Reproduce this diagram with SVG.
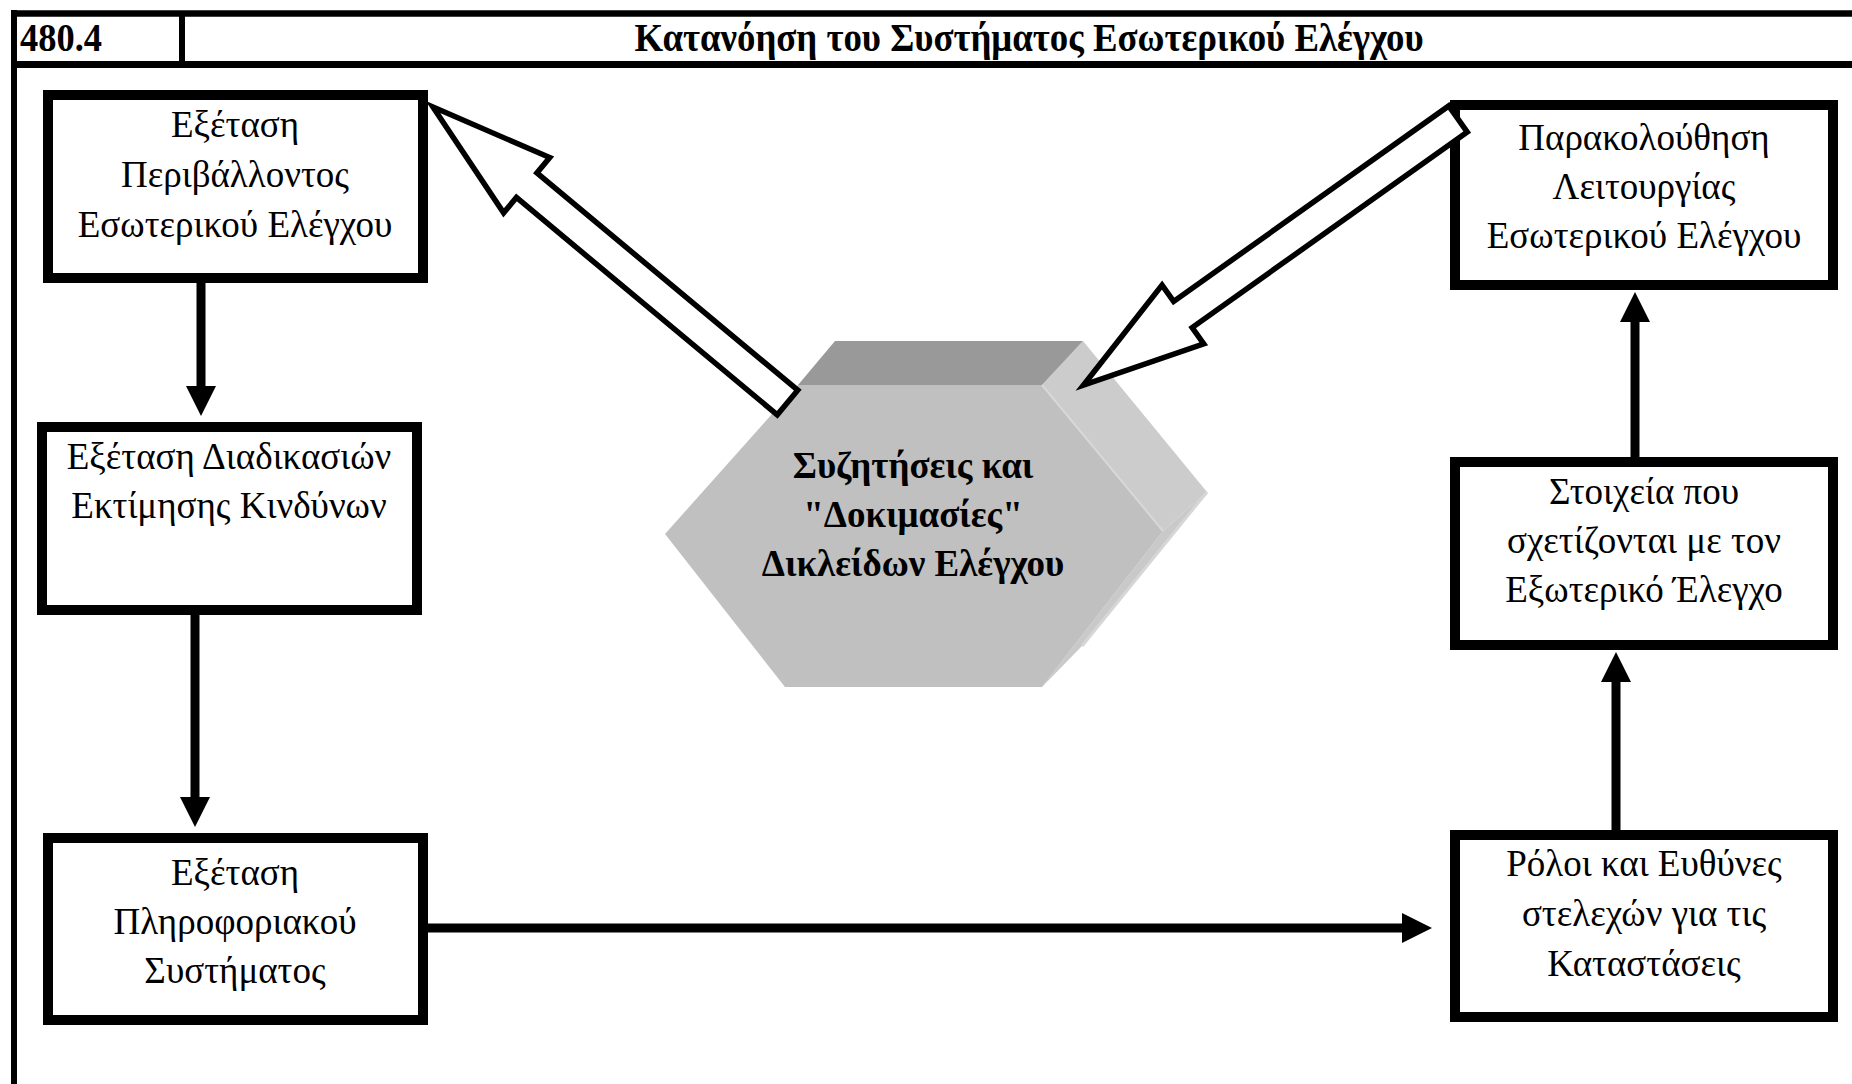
<svg xmlns="http://www.w3.org/2000/svg" width="1852" height="1084" viewBox="0 0 1852 1084">
<style>
  .frame { stroke: #000; fill: none; }
  .box { fill: #fff; stroke: #000; stroke-width: 10; }
  .t { font-family: "Liberation Serif", "DejaVu Serif", serif; font-size: 37px; fill: #000; text-anchor: middle; }
  .tb { font-family: "Liberation Serif", "DejaVu Serif", serif; font-weight: bold; fill: #000; }
  .hx { font-family: "Liberation Serif", "DejaVu Serif", serif; font-weight: bold; font-size: 37px; fill: #000; text-anchor: middle; }
  .conn { stroke: #000; stroke-width: 9; fill: none; marker-end: url(#head); }
  .block { fill: #fff; stroke: #000; stroke-width: 5.5; stroke-linejoin: miter; }
</style>
<defs>
  <marker id="head" markerUnits="userSpaceOnUse" markerWidth="30" markerHeight="30" viewBox="0 0 30 30" refX="0" refY="15" orient="auto">
    <path d="M0,0 L30,15 L0,30 Z" fill="#000"/>
  </marker>
</defs>
<rect x="0" y="0" width="1852" height="1084" fill="#fff"/>

<g id="frame">
  <line class="frame" x1="11" y1="13.5" x2="1852" y2="13.5" stroke-width="6.5"/>
  <line class="frame" x1="11" y1="64.5" x2="1852" y2="64.5" stroke-width="7"/>
  <line class="frame" x1="14" y1="10" x2="14" y2="1084" stroke-width="6"/>
  <line class="frame" x1="182" y1="13" x2="182" y2="64" stroke-width="6"/>
  <text class="tb" x="20" y="51" font-size="40" textLength="82" lengthAdjust="spacingAndGlyphs">480.4</text>
  <text class="tb" x="1029" y="51" font-size="40" text-anchor="middle" textLength="789" lengthAdjust="spacingAndGlyphs">Κατανόηση του Συστήματος Εσωτερικού Ελέγχου</text>
</g>

<g id="node-perivallon">
  <rect class="box" x="48" y="95" width="375" height="183"/>
  <text class="t" x="235" y="137">Εξέταση</text>
  <text class="t" x="235" y="187">Περιβάλλοντος</text>
  <text class="t" x="235" y="237">Εσωτερικού Ελέγχου</text>
</g>

<g id="node-kindynoi">
  <rect class="box" x="42" y="427" width="375" height="183"/>
  <text class="t" x="229" y="469">Εξέταση Διαδικασιών</text>
  <text class="t" x="229" y="518">Εκτίμησης Κινδύνων</text>
</g>

<g id="node-pliroforiako">
  <rect class="box" x="48" y="838" width="375" height="182"/>
  <text class="t" x="235" y="885">Εξέταση</text>
  <text class="t" x="235" y="934">Πληροφοριακού</text>
  <text class="t" x="235" y="983">Συστήματος</text>
</g>

<g id="node-parakolouthisi">
  <rect class="box" x="1455" y="105" width="378" height="180"/>
  <text class="t" x="1644" y="150">Παρακολούθηση</text>
  <text class="t" x="1644" y="199">Λειτουργίας</text>
  <text class="t" x="1644" y="248">Εσωτερικού Ελέγχου</text>
</g>

<g id="node-stoixeia">
  <rect class="box" x="1455" y="462" width="378" height="183"/>
  <text class="t" x="1644" y="504">Στοιχεία που</text>
  <text class="t" x="1644" y="553">σχετίζονται με τον</text>
  <text class="t" x="1644" y="602">Εξωτερικό Έλεγχο</text>
</g>

<g id="node-roloi">
  <rect class="box" x="1455" y="835" width="378" height="182"/>
  <text class="t" x="1644" y="876">Ρόλοι και Ευθύνες</text>
  <text class="t" x="1644" y="926">στελεχών για τις</text>
  <text class="t" x="1644" y="976">Καταστάσεις</text>
</g>

<g id="node-hexagon">
  <polygon points="1163,531 1207,492 1082,646 1042,687" fill="#c9c9c9"/>
  <polygon points="1042,385 1083,341 1207,492 1163,531" fill="#cccccc"/>
  <polygon points="798,385 835,341 1083,341 1042,385" fill="#999999"/>
  <polygon points="798,385 1042,385 1163,531 1042,687 785,687 665,534" fill="#c0c0c0"/>
  <line x1="1042" y1="385" x2="1163" y2="531" stroke="#d8d8d8" stroke-width="2"/>
  <line x1="1082" y1="646" x2="1207" y2="492" stroke="#d6d6d6" stroke-width="3"/>
  <text class="hx" x="913" y="478">Συζητήσεις και</text>
  <text class="hx" x="913" y="527">"Δοκιμασίες"</text>
  <text class="hx" x="913" y="576">Δικλείδων Ελέγχου</text>
</g>

<g id="connectors">
  <line class="conn" x1="201" y1="283" x2="201" y2="386"/>
  <line class="conn" x1="195" y1="615" x2="195" y2="797"/>
  <line class="conn" x1="428" y1="928" x2="1402" y2="928"/>
  <line class="conn" x1="1616" y1="830" x2="1616" y2="682"/>
  <line class="conn" x1="1635" y1="457" x2="1635" y2="322"/>
  <polygon class="block" transform="translate(787.5,402.5) rotate(219.8)" points="0,-16 339.5,-16 339.5,-36 461.5,0 339.5,36 339.5,16 0,16"/>
  <polygon class="block" transform="translate(1458,119) rotate(144.6)" points="0,-16 337.5,-16 337.5,-36 459.5,0 337.5,36 337.5,16 0,16"/>
</g>
</svg>
